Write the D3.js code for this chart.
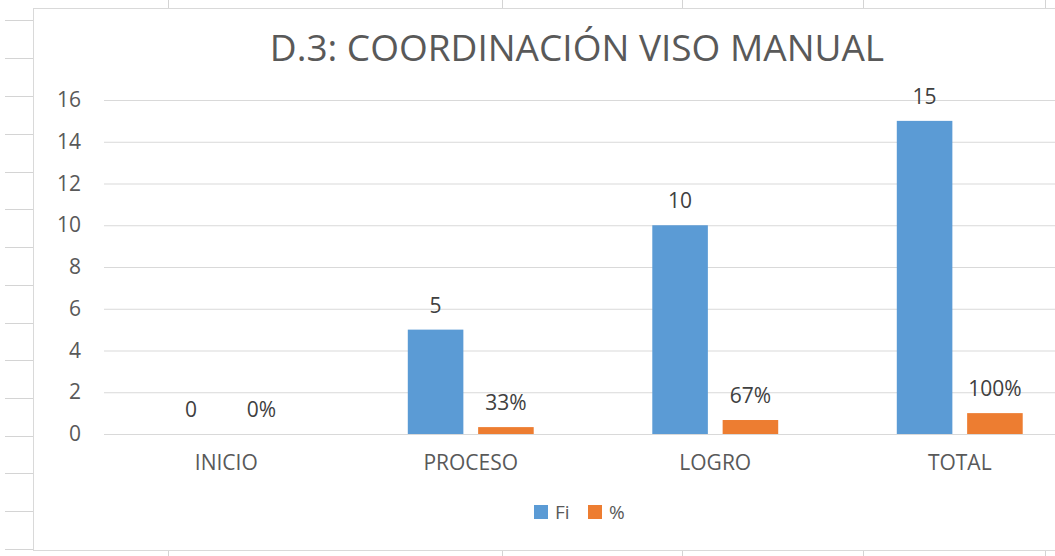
<!doctype html>
<html lang=en>
<head>
  <meta charset="utf-8">
  <title>D.3</title>
  <style>
body { margin: 0; background: #fff; }
text { font-family: "Open Sans", sans-serif; fill: #595959; }
  </style>
</head>
<body>
<div id=content></div>
<script src="https://cdn.jsdelivr.net/npm/d3@7"></script>
<script>
  // chart data
  var categories = ["INICIO", "PROCESO", "LOGRO", "TOTAL"]
  var series = ["Fi", "%"]
  var fi = [0, 5, 10, 15]
  var pct = [0, 0.33, 0.67, 1]
  var yTicks = [0, 2, 4, 6, 8, 10, 12, 14, 16]
  var colors = {"Fi": "#5B9BD5", "%": "#ED7D31"}

  // spreadsheet cells behind the chart
  var sheetRows = [20, 58, 96, 134, 172, 209, 247, 285, 323, 360, 398, 436, 473, 511, 549]
  var sheetCols = [168, 502, 682, 863, 1045]

  var W = 1055, H = 556
  var frame = {x: 33, y: 8, w: 1090, h: 542}
  // plot area
  var m = {l: 104, r: 1082, t: 100, b: 434}

  var svg = d3.select("#content").append("svg")
      .attr("width", W).attr("height", H)

  // sheet grid
  svg.selectAll(".row").data(sheetRows).enter().append("line")
      .attr("x1", 5).attr("x2", frame.x)
      .attr("y1", d => d + 0.5).attr("y2", d => d + 0.5)
      .attr("stroke", "#d4d4d4")
  svg.selectAll(".coltop").data(sheetCols).enter().append("line")
      .attr("x1", d => d + 0.5).attr("x2", d => d + 0.5)
      .attr("y1", 0).attr("y2", frame.y)
      .attr("stroke", "#d4d4d4")
  svg.selectAll(".colbot").data(sheetCols).enter().append("line")
      .attr("x1", d => d + 0.5).attr("x2", d => d + 0.5)
      .attr("y1", frame.y + frame.h).attr("y2", H)
      .attr("stroke", "#d4d4d4")

  // chart frame
  svg.append("rect")
      .attr("x", frame.x + 0.5).attr("y", frame.y + 0.5)
      .attr("width", frame.w).attr("height", frame.h)
      .attr("fill", "#fff").attr("stroke", "#d9d9d9")

  var y = d3.scaleLinear().domain([0, 16]).range([m.b, m.t])

  var x0 = d3.scaleBand().domain(categories)
      .range([m.l, m.r]).paddingInner(0.485).paddingOuter(0.2425)
  var x1 = d3.scaleBand().domain(series)
      .range([0, x0.bandwidth()]).paddingInner(0.21)

  // gridlines
  var yaxis = d3.axisLeft(y).tickValues(yTicks)
      .tickSize(-(m.r - m.l)).tickPadding(23)
  var gy = svg.append("g")
      .attr("transform", "translate(" + m.l + ",0)")
      .call(yaxis)
  gy.select(".domain").remove()
  gy.selectAll(".tick line").attr("stroke", "#d9d9d9")
  gy.selectAll(".tick text")
      .attr("font-size", 21).attr("fill", "#595959")
      .style("font-family", "'Open Sans', sans-serif")

  var xaxis = d3.axisBottom(x0).tickSize(0).tickPadding(21)
  var gx = svg.append("g")
      .attr("transform", "translate(0," + m.b + ")")
      .call(xaxis)
  gx.select(".domain").attr("stroke", "#d9d9d9")
  gx.selectAll(".tick text")
      .attr("font-size", 21).attr("fill", "#595959")
      .style("font-family", "'Open Sans', sans-serif")

  var rows = categories.map((c, i) => ({cat: c, vals: [
    {s: "Fi", v: fi[i], label: String(fi[i])},
    {s: "%", v: pct[i], label: d3.format(".0%")(pct[i])}
  ]}))

  var groups = svg.append("g").selectAll("g").data(rows).enter().append("g")
      .attr("transform", d => "translate(" + x0(d.cat) + ",0)")

  groups.selectAll("rect").data(d => d.vals).enter().append("rect")
      .attr("x", d => x1(d.s))
      .attr("width", x1.bandwidth())
      .attr("y", d => y(d.v))
      .attr("height", d => y(0) - y(d.v))
      .attr("fill", d => colors[d.s])

  groups.selectAll("text").data(d => d.vals).enter().append("text")
      .attr("x", d => x1(d.s) + x1.bandwidth() / 2)
      .attr("y", d => y(d.v) - 17)
      .attr("text-anchor", "middle")
      .attr("font-size", 21)
      .style("fill", "#404040")
      .text(d => d.label)

  // title
  svg.append("text")
      .attr("x", 577).attr("y", 61)
      .attr("text-anchor", "middle")
      .attr("font-size", 37)
      .text("D.3: COORDINACIÓN VISO MANUAL")

  // legend
  var leg = svg.append("g").attr("transform", "translate(534,505)")
  var items = leg.selectAll("g").data(series).enter().append("g")
      .attr("transform", (d, i) => "translate(" + (i * 54) + ",0)")
  items.append("rect").attr("width", 14).attr("height", 14)
      .attr("fill", d => colors[d])
  items.append("text").attr("x", 21).attr("y", 14)
      .attr("font-size", 19).text(d => d)
</script>
</body>
</html>
